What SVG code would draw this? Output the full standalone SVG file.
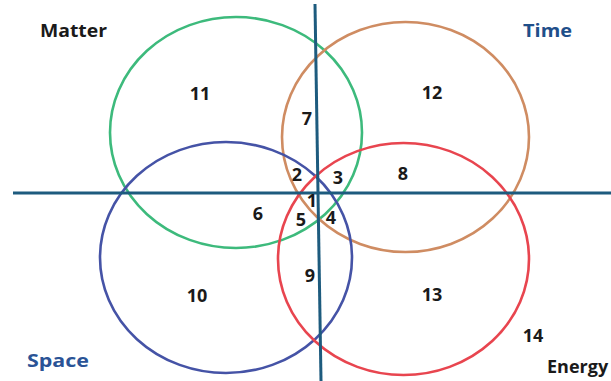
<svg xmlns="http://www.w3.org/2000/svg" width="611" height="381" viewBox="0 0 611 381">
<style>
.c{fill:none;stroke-width:2.6}
.ax{stroke:#1d5b7e;stroke-width:3}
.n{font-family:"Open Sans","Liberation Sans",sans-serif;font-weight:700;font-size:18px;fill:#1a1a1a;text-anchor:middle}
.l{font-family:"Open Sans","Liberation Sans",sans-serif;font-weight:700;font-size:18px}
</style>
<rect width="611" height="381" fill="#fff"/>
<g id="matter"><ellipse class="c" cx="236" cy="132.5" rx="126" ry="115.5" stroke="#3dba7c"/></g>
<g id="time"><ellipse class="c" cx="405.5" cy="137" rx="123.5" ry="115" stroke="#cf8c62"/></g>
<g id="space"><ellipse class="c" cx="226" cy="257.5" rx="126" ry="115.5" stroke="#4553a6"/></g>
<g id="energy"><ellipse class="c" cx="403.5" cy="259" rx="125.5" ry="116" stroke="#e8454f"/></g>
<g id="axes">
<line class="ax" x1="13" y1="193" x2="611" y2="193"/>
<line class="ax" x1="315" y1="4" x2="321" y2="381"/>
</g>
<g id="labels">
<text class="l" x="40" y="36.5" fill="#1a1a1a" textLength="67" lengthAdjust="spacingAndGlyphs">Matter</text>
<text class="l" x="523" y="36.5" fill="#1f4f8a" textLength="49" lengthAdjust="spacingAndGlyphs">Time</text>
<text class="l" x="27" y="366.5" fill="#2a5396" textLength="62" lengthAdjust="spacingAndGlyphs">Space</text>
<text class="l" x="547" y="373" fill="#1a1a1a">Energy</text>
</g>
<g id="numbers">
<text class="n" x="200" y="99.5">11</text>
<text class="n" x="307" y="124.5">7</text>
<text class="n" x="432" y="98.5">12</text>
<text class="n" x="297" y="180.5">2</text>
<text class="n" x="338" y="183.5">3</text>
<text class="n" x="403" y="179.5">8</text>
<text class="n" x="312" y="206.5">1</text>
<text class="n" x="301" y="225.5">5</text>
<text class="n" x="331" y="223.5">4</text>
<text class="n" x="258" y="219.5">6</text>
<text class="n" x="310" y="281.5">9</text>
<text class="n" x="197" y="301.5">10</text>
<text class="n" x="432" y="300.5">13</text>
<text class="n" x="533" y="341.5">14</text>
</g>
</svg>
